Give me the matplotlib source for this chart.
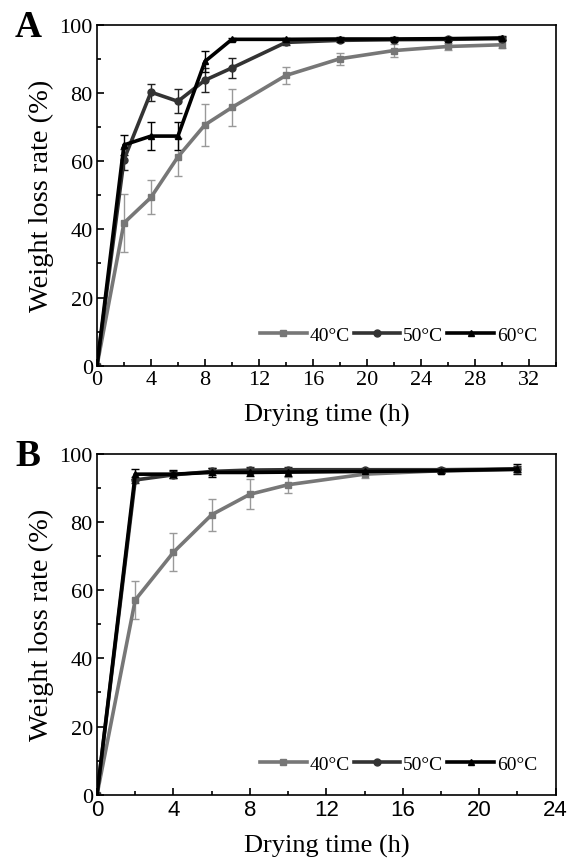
import numpy as np
import matplotlib.pyplot as plt
from matplotlib.ticker import MultipleLocator

# panel A data
time_a = [0, 2, 4, 6, 8, 10, 14, 18, 22, 26, 30]
a_40 = [0, 41.9, 49.4, 61.3, 70.7, 75.8, 85.2, 90.1, 92.5, 93.7, 94.2]
a_40_err = [0, 8.5, 5.0, 5.5, 6.2, 5.3, 2.5, 1.8, 1.8, 1.0, 1.0]
a_50 = [0, 60.5, 80.3, 77.6, 83.8, 87.4, 94.9, 95.5, 95.7, 95.8, 96.0]
a_50_err = [0, 3.0, 2.5, 3.5, 3.5, 3.0, 0.8, 0.5, 0.5, 0.5, 0.5]
a_60 = [0, 64.8, 67.4, 67.4, 89.3, 95.8, 95.8, 95.9, 95.9, 96.0, 96.2]
a_60_err = [0, 3.0, 4.0, 4.0, 3.0, 0.5, 0.5, 0.5, 0.5, 0.5, 0.5]

# panel B data
time_b = [0, 2, 4, 6, 8, 10, 14, 18, 22]
b_40 = [0, 57.1, 71.1, 82.1, 88.1, 90.9, 94.0, 95.0, 95.3]
b_40_err = [0, 5.5, 5.6, 4.7, 4.4, 2.4, 1.0, 0.8, 0.8]
b_50 = [0, 92.3, 93.8, 94.8, 95.2, 95.3, 95.3, 95.3, 95.5]
b_50_err = [0, 1.0, 1.0, 1.0, 0.8, 0.8, 0.6, 0.6, 0.8]
b_60 = [0, 94.0, 94.0, 94.5, 94.5, 94.6, 94.8, 95.0, 95.5]
b_60_err = [0, 1.5, 1.2, 1.2, 1.0, 1.0, 0.8, 0.8, 1.5]

labels = ['40°C', '50°C', '60°C']
colors = ['#777777', '#333333', '#000000']
markers = ['s', 'o', '^']
ecolors = ['#999999', '#222222', '#000000']

plt.rcParams['font.family'] = ['Liberation Serif', 'DejaVu Serif']

fig = plt.figure(figsize=(5.74, 8.62), dpi=100)
ax_a = fig.add_axes([0.169, 0.5746, 0.799, 0.3952])
ax_b = fig.add_axes([0.169, 0.0769, 0.799, 0.3956])


def draw(ax, t, series, errs, xmax, xmajor, letter, sans_x=False):
    handles = []
    for y, e, c, m, ec, lab in zip(series, errs, colors, markers, ecolors, labels):
        cont = ax.errorbar(t, y, yerr=e, color=c, marker=m, markersize=5, lw=2.6,
                           ecolor=ec, elinewidth=1, capsize=3, capthick=1, label=lab)
        handles.append(cont.lines[0])
    ax.set_xlim(0, xmax)
    ax.set_ylim(0, 100)
    ax.xaxis.set_major_locator(MultipleLocator(xmajor))
    ax.xaxis.set_minor_locator(MultipleLocator(xmajor / 2))
    ax.yaxis.set_major_locator(MultipleLocator(20))
    ax.yaxis.set_minor_locator(MultipleLocator(10))
    ax.tick_params(which='both', direction='in', top=False, right=False,
                   labelsize=16, width=1.2, pad=3)
    ax.tick_params(which='major', length=5)
    ax.tick_params(which='minor', length=3)
    for s in ax.spines.values():
        s.set_linewidth(1.2)
    ax.set_ylabel('Weight loss rate (%)', fontsize=20.5, labelpad=4)
    ax.set_xlabel('Drying time (h)', fontsize=19, labelpad=10)
    if sans_x:
        for lbl in ax.get_xticklabels():
            lbl.set_family('Liberation Sans')
    ax.text(-0.150, 0.995, letter, transform=ax.transAxes, fontsize=27,
            fontweight='bold', va='center', ha='center')
    ax.legend(handles, labels, loc='lower right', ncol=3, frameon=False,
              fontsize=14, handlelength=2.4, handletextpad=0.15,
              columnspacing=0.2, bbox_to_anchor=(0.985, 0.03), borderaxespad=0.2)


draw(ax_a, time_a, [a_40, a_50, a_60], [a_40_err, a_50_err, a_60_err], 34, 4, 'A')
draw(ax_b, time_b, [b_40, b_50, b_60], [b_40_err, b_50_err, b_60_err], 24, 4, 'B', sans_x=True)

fig.savefig('out.png', dpi=100)
